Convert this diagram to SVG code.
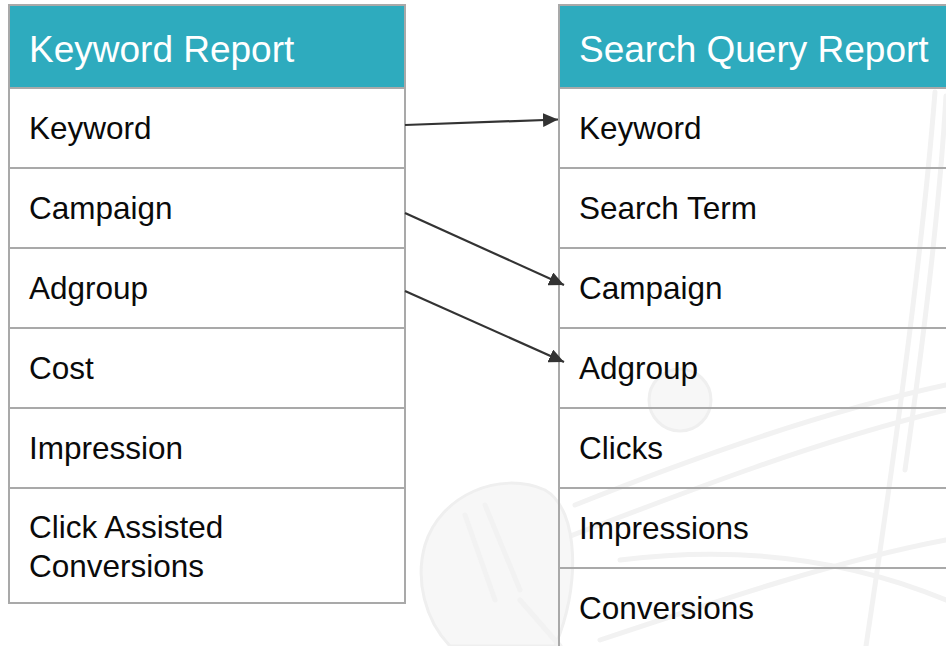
<svg xmlns="http://www.w3.org/2000/svg" width="946" height="646" viewBox="0 0 946 646">
  <defs>
    <style>
      .cell { fill: none; stroke: #a9a9a9; stroke-width: 2; }
      .head { fill: #2eabbe; stroke: #a9a9a9; stroke-width: 2; }
      .title { font-family: "Liberation Sans", Arial, sans-serif; font-size: 37px; fill: #ffffff; }
      .label { font-family: "Liberation Sans", Arial, sans-serif; font-size: 31.5px; fill: #0a0a0a; }
      .link { fill: none; stroke: #333333; stroke-width: 2.2; }
      .sketch { fill: #f7f7f7; stroke: #efefef; stroke-width: 3; stroke-linejoin: round; stroke-linecap: round; }
      .sketch-line { fill: none; stroke: #f2f2f2; stroke-width: 5; stroke-linecap: round; }
    </style>
    <marker id="arrow" markerUnits="userSpaceOnUse" markerWidth="16" markerHeight="14" refX="15" refY="7" orient="auto">
      <path d="M0,0 L15,7 L0,14 Z" fill="#333333"/>
    </marker>
  </defs>

  <rect width="946" height="646" fill="#ffffff"/>

  <!-- faint golf-club sketch behind the tables -->
  <g id="background-sketch">
    <path class="sketch-line" d="M935,92 C925,220 900,420 866,646"/>
    <path class="sketch-line" d="M946,96 C940,200 925,330 905,470"/>
    <path class="sketch-line" d="M575,505 C700,455 830,410 946,385"/>
    <path class="sketch-line" d="M560,540 C690,490 820,440 946,410"/>
    <path class="sketch-line" d="M600,640 C720,600 840,560 946,540"/>
    <path class="sketch-line" d="M620,560 C740,545 850,560 946,600"/>
    <circle class="sketch" cx="680" cy="400" r="31"/>
    <path class="sketch" d="M425,545 C440,495 500,470 545,490 C580,510 580,590 555,646 L450,646 C425,620 415,580 425,545 Z"/>
    <path class="sketch-line" d="M465,515 L495,600"/>
    <path class="sketch-line" d="M485,505 L520,590"/>
    <path class="sketch-line" d="M520,600 L560,646"/>
  </g>

  <!-- left table -->
  <g id="keyword-report">
    <rect class="head" x="9" y="5" width="396" height="83"/>
    <text class="title" x="29" y="62">Keyword Report</text>
    <rect class="cell" x="9" y="88" width="396" height="515"/>
    <line class="cell" x1="9" y1="168" x2="405" y2="168"/>
    <line class="cell" x1="9" y1="248" x2="405" y2="248"/>
    <line class="cell" x1="9" y1="328" x2="405" y2="328"/>
    <line class="cell" x1="9" y1="408" x2="405" y2="408"/>
    <line class="cell" x1="9" y1="488" x2="405" y2="488"/>
    <text class="label" x="29" y="139">Keyword</text>
    <text class="label" x="29" y="219">Campaign</text>
    <text class="label" x="29" y="299">Adgroup</text>
    <text class="label" x="29" y="379">Cost</text>
    <text class="label" x="29" y="459">Impression</text>
    <text class="label" x="29" y="538">Click Assisted</text>
    <text class="label" x="29" y="577">Conversions</text>
  </g>

  <!-- right table -->
  <g id="search-query-report">
    <rect class="head" x="559" y="5" width="400" height="83"/>
    <text class="title" x="579" y="62">Search Query Report</text>
    <line class="cell" x1="559" y1="88" x2="559" y2="646"/>
    <line class="cell" x1="559" y1="168" x2="946" y2="168"/>
    <line class="cell" x1="559" y1="248" x2="946" y2="248"/>
    <line class="cell" x1="559" y1="328" x2="946" y2="328"/>
    <line class="cell" x1="559" y1="408" x2="946" y2="408"/>
    <line class="cell" x1="559" y1="488" x2="946" y2="488"/>
    <line class="cell" x1="559" y1="568" x2="946" y2="568"/>
    <text class="label" x="579" y="139">Keyword</text>
    <text class="label" x="579" y="219">Search Term</text>
    <text class="label" x="579" y="299">Campaign</text>
    <text class="label" x="579" y="379">Adgroup</text>
    <text class="label" x="579" y="459">Clicks</text>
    <text class="label" x="579" y="539">Impressions</text>
    <text class="label" x="579" y="619">Conversions</text>
  </g>

  <!-- field mappings -->
  <g id="connectors">
    <line class="link" x1="405" y1="125" x2="558" y2="119.5" marker-end="url(#arrow)"/>
    <line class="link" x1="405" y1="213" x2="564" y2="285" marker-end="url(#arrow)"/>
    <line class="link" x1="405" y1="291" x2="564" y2="362" marker-end="url(#arrow)"/>
  </g>
</svg>
